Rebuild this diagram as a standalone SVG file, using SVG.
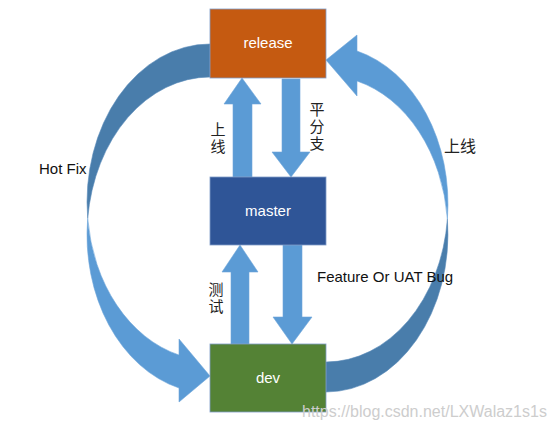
<svg xmlns="http://www.w3.org/2000/svg" width="554" height="430" viewBox="0 0 554 430">
<style>
.box{stroke:#7F9CC8;stroke-width:0.8}
.lbl{font-family:"Liberation Sans",Arial,sans-serif;font-size:15px;fill:#ffffff;text-anchor:middle}
.txt{font-family:"Liberation Sans",Arial,sans-serif;font-size:15px;fill:#111111}
.cjk{font-family:"Noto Sans CJK SC","Noto Sans CJK JP",sans-serif;font-size:15px;fill:#222222}
.vt{writing-mode:vertical-rl;letter-spacing:2px}
.arr{fill:#5B9BD5;stroke:#6FA6DA;stroke-width:0.6}
.back{fill:#497DAB;stroke:#5A8CBB;stroke-width:0.6}
.wm{font-family:"Liberation Sans",Arial,sans-serif;font-size:16px;fill:#CDCDCD}
</style>
<rect width="554" height="430" fill="#ffffff"/>
<g id="connectors">
  <!-- Hot Fix curved arrow -->
  <path class="back" d="M210,44 A123,158 0 0 0 87.7,218.5 A123,158 0 0 1 210,77 Z"/>
  <path class="arr" d="M87.7,218.5 A123,158 0 0 0 179,388 L179,402 L210,376 L179,339 L179,355 A123,158 0 0 1 87.7,218.5 Z"/>
  <!-- right curved arrow -->
  <path class="arr" d="M447.4,219 A122,158 0 0 0 357,51 L357,35 L326,60 L357,96 L357,81 A122,158 0 0 1 447.4,219 Z"/>
  <path class="back" d="M447.4,219 A122,158 0 0 1 326,392 L326,362 A122,158 0 0 0 447.4,219 Z"/>
  <!-- vertical arrows -->
  <polygon class="arr" points="242,78 261,104 252,104 252,177 233,177 233,104 224,104"/>
  <polygon class="arr" points="282,79 300,79 300,152 310,152 291,177 272,152 282,152"/>
  <polygon class="arr" points="240,245 258,272 249,272 249,344 231,344 231,272 222,272"/>
  <polygon class="arr" points="283,245 302,245 302,317 312,317 292,344 273,317 283,317"/>
  <!-- labels -->
  <text class="txt" x="39" y="174">Hot Fix</text>
  <text class="txt" x="317" y="282">Feature Or UAT Bug</text>
  <text class="cjk vt" x="218" y="122">上线</text>
  <text class="cjk vt" x="317" y="102">平分支</text>
  <text class="cjk vt" x="216" y="282">测试</text>
  <text class="cjk" x="444" y="152" style="font-size:16px">上线</text>
</g>
<g id="release">
  <rect class="box" x="210" y="9" width="116" height="69" fill="#C55A11"/>
  <text class="lbl" x="268" y="48">release</text>
</g>
<g id="master">
  <rect class="box" x="210" y="177" width="116" height="68" fill="#2F5597"/>
  <text class="lbl" x="268" y="216">master</text>
</g>
<g id="dev">
  <rect class="box" x="210" y="344" width="116" height="68" fill="#548235"/>
  <text class="lbl" x="268" y="383">dev</text>
</g>
<text class="wm" x="302" y="417">https://blog.csdn.net/LXWalaz1s1s</text>
</svg>
